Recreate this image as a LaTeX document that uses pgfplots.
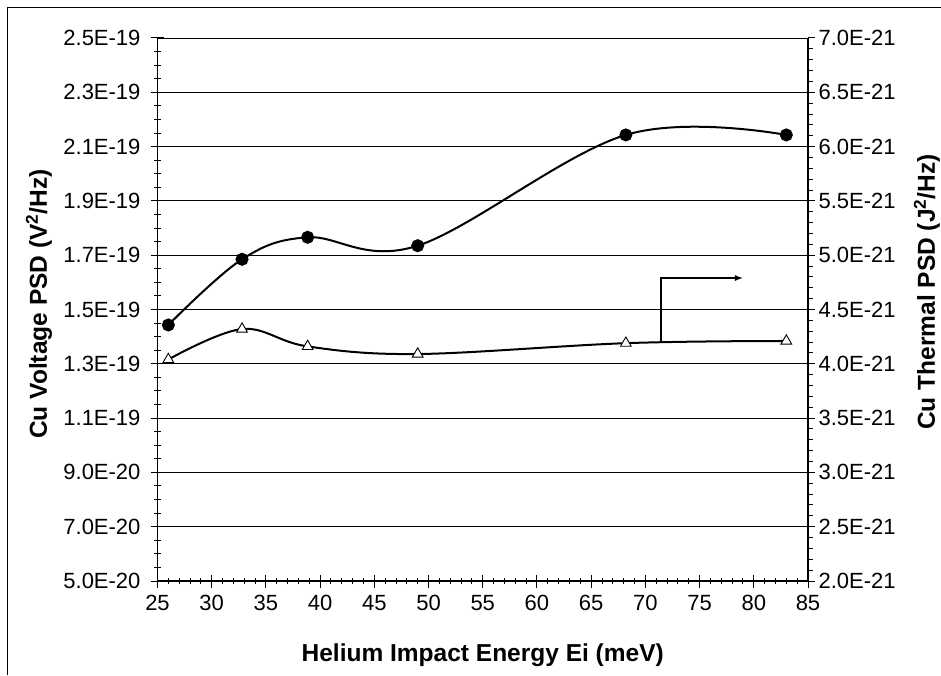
\documentclass[border=0pt]{standalone}
\usepackage{pgfplots}
\pgfplotsset{compat=1.18}
\usepackage{fontspec}
\setmainfont{Liberation Sans}
\usetikzlibrary{arrows.meta}

\begin{document}
\begin{tikzpicture}
\pgfplotsset{
  psdaxis/.style={
    at={(157.5pt,94pt)}, anchor=south west,
    scale only axis, width=650.5pt, height=543pt,
    xmin=25, xmax=85,
    scaled y ticks=false,
    /pgf/number format/assume math mode=true,
    tick label style={font=\fontsize{22}{26}\selectfont},
    label style={font=\bfseries\fontsize{24.5}{29}\selectfont},
    every axis plot/.append style={black, line width=2pt, smooth, tension=0.6},
  }
}
% left axis: Cu voltage PSD
\begin{axis}[
  psdaxis,
  ymin=5e-20, ymax=2.5e-19,
  axis x line*=bottom, axis y line*=left,
  axis line style={line width=1.3pt},
  xtick={25,30,35,40,45,50,55,60,65,70,75,80,85},
  minor x tick num=4,
  ytick={5e-20,7e-20,9e-20,1.1e-19,1.3e-19,1.5e-19,1.7e-19,1.9e-19,2.1e-19,2.3e-19,2.5e-19},
  yticklabels={5.0E-20,7.0E-20,9.0E-20,1.1E-19,1.3E-19,1.5E-19,1.7E-19,1.9E-19,2.1E-19,2.3E-19,2.5E-19},
  yticklabel style={xshift=-7pt},
  xticklabel style={yshift=-4pt},
  minor y tick num=3,
  tick align=center,
  major tick length=13pt, minor tick length=6pt,
  tick style={black, line width=1pt},
  ymajorgrids, major grid style={black, line width=0.9pt},
  xlabel={Helium Impact Energy Ei (meV)},
  xlabel style={at={(axis description cs:0.5,0)}, anchor=base, yshift=-80pt},
  ylabel={Cu Voltage PSD (V\textsuperscript{2}/Hz)},
  ylabel style={at={(axis description cs:-0.1699,0.51)}, rotate=0, anchor=base},
]
\addplot[mark=*, mark size=5.5pt, mark options={solid, fill=black}] coordinates {
  (26.0,1.443e-19) (32.8,1.685e-19) (38.85,1.766e-19) (49.0,1.735e-19) (68.2,2.143e-19) (83.0,2.143e-19)
};
\draw[line width=1.2pt, -{Latex[length=8pt,width=6pt]}]
  (axis cs:71.45,1.383e-19) -- (axis cs:71.45,1.616e-19) -- (axis cs:79.0,1.616e-19);
\end{axis}
% right axis: Cu thermal PSD
\begin{axis}[
  psdaxis,
  ymin=2e-21, ymax=7e-21,
  axis x line=none, axis y line*=right,
  axis line style={line width=1.3pt},
  ytick={2e-21,2.5e-21,3e-21,3.5e-21,4e-21,4.5e-21,5e-21,5.5e-21,6e-21,6.5e-21,7e-21},
  yticklabels={2.0E-21,2.5E-21,3.0E-21,3.5E-21,4.0E-21,4.5E-21,5.0E-21,5.5E-21,6.0E-21,6.5E-21,7.0E-21},
  minor y tick num=4,
  tick align=outside,
  major tick length=7pt, minor tick length=5pt,
  tick style={black, line width=1pt},
  ylabel={Cu Thermal PSD (J\textsuperscript{2}/Hz)},
  ylabel style={at={(axis description cs:1.1952,0.532)}, rotate=0, anchor=base},
]
\addplot[mark=triangle*, mark size=6.2pt, mark options={solid, fill=white, draw=black, line width=0.9pt}] coordinates {
  (26.0,4.04e-21) (32.8,4.32e-21) (38.85,4.16e-21) (49.0,4.09e-21) (68.2,4.19e-21) (83.0,4.21e-21)
};
\end{axis}
\pgfresetboundingbox
\path[use as bounding box] (0,0) rectangle (941pt,675pt);
\draw[line width=1pt] (7pt,0) -- (7pt,667pt) -- (941pt,667pt);
\end{tikzpicture}
\end{document}
